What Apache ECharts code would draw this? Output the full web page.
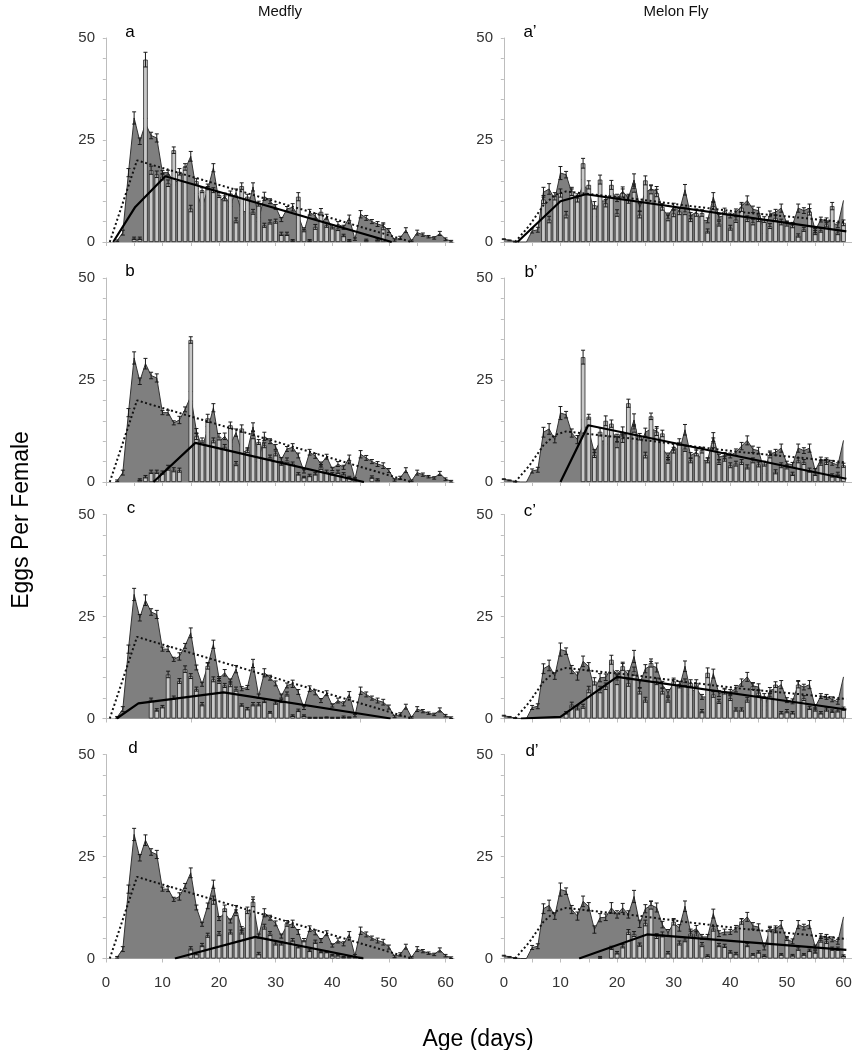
<!DOCTYPE html>
<html>
<head>
<meta charset="utf-8">
<script src="https://cdn.jsdelivr.net/npm/echarts@6/dist/echarts.min.js"></script>
<style>
html, body { margin: 0; padding: 0; background: #fff; }
#chart { width: 852px; height: 1050px; }
</style>
</head>
<body>
<div id="chart"></div>
<script>
// all series are indexed by day (0 = first day on the age axis)
var medflyControl = [null, null, 0.3, 2.3, 17, 30.4, 24.7, 29, 26.1, 25.5,
  17, 17, 14.5, 15.2, 17.8, 21, 12.5, 8.4, 12.9, 18.2,
  9.8, 11.2, 9.2, 12.1, 7.3, 7.6, 13.5, 5.5, 11.2, 10,
  8.6, 5.5, 8.1, 8.5, 6.5, 2.6, 7.3, 6.4, 4.4, 6.2,
  3.2, 4.4, 3.6, 5.9, 0.7, 6.8, 5.9, 5.0, 4.4, 4.0,
  2.8, 0.5, 1.0, 2.9, 0.3, 2.3, 1.8, 1.3, 1.0, 2.1,
  0.7, 0.2];
var medflyControlErr = [0, 0, 0.2, 0.6, 1.0, 1.5, 0.8, 1.3, 0.8, 1.0,
  0.5, 0.6, 0.5, 0.9, 0.6, 1.2, 0.6, 0.5, 0.7, 1.0,
  0.5, 0.8, 0.5, 0.9, 0.5, 0.5, 1.0, 0.5, 1.0, 0.6,
  0.6, 0.5, 0.6, 0.9, 0.6, 0.4, 0.7, 0.6, 0.5, 0.6,
  0.4, 0.6, 0.5, 0.7, 0.3, 0.9, 0.6, 0.5, 0.6, 0.7,
  0.5, 0.3, 0.4, 0.6, 0.2, 0.6, 0.4, 0.3, 0.3, 0.5,
  0.3, 0.2];
var melonControl = [0.7, 0.4, 0.1, 0, 0, 2.7, 3, 12.2, 13, 10.4,
  16.9, 16.5, 12, 10.4, 14, 12.7, 7.1, 10, 10.1, 12.4,
  10.8, 12.4, 10.8, 15.2, 8.5, 12.2, 13, 12.5, 8.3, 6.3,
  8.7, 7.5, 12.8, 6.5, 7.3, 5.3, 5.3, 11, 6.1, 6.5,
  6.5, 7.3, 8.8, 10.2, 8, 7.7, 2.6, 6.9, 7.3, 8.3,
  4.5, 4.2, 8.3, 7.7, 8.3, 2.8, 5.5, 5.3, 4.7, 4.1,
  10.2];
var melonControlErr = [0.1, 0.1, 0.1, 0, 0, 0.5, 0.6, 1.2, 1.3, 0.8,
  1.6, 0.8, 1.0, 1.0, 1.3, 1.0, 0.9, 1.0, 0.8, 1.3,
  0.9, 1.1, 0.9, 1.5, 0.9, 1.0, 1.0, 1.1, 0.8, 0.8,
  0.8, 0.8, 1.3, 0.7, 0.8, 0.6, 0.6, 1.1, 0.7, 0.7,
  0.6, 0.8, 0.9, 1.1, 0.8, 0.8, 0.5, 0.7, 0.7, 1.0,
  0.6, 0.6, 1.0, 0.7, 1.0, 0.5, 0.6, 0.6, 0.6, 0.6,
  0];

// piecewise fits [day, eggs]
var fitMedfly = [[0.7, 0], [5.5, 20], [54, 0]];
var fitMelon = [[2, 0], [4.5, 4], [7, 9], [9, 11.5], [11, 12.4], [16, 11.6], [23, 10.6], [33, 8.8], [42, 7.3], [52, 6], [60.5, 4.8]];

// treatment bars: first day, values, errors
var barsAStart = 5;
var barsA = [0.9, 0.9, 44.7, 17.6, 16.6, 16.0, 14.4, 22.5, 17.2, 18.4,
  8.2, 14.9, 12.7, 13.5, 12.7, 11.5, 10.7, 11.9, 5.3, 13.7,
  11.1, 7.4, 9.4, 4.1, 4.9, 5.1, 2.0, 2.0, 0.4, 11.1,
  3.0, 0.4, 3.7, 7.4, 4.1, 3.7, 3.3, 1.6, 0.4, null,
  null, 0.5, null, 0.6, 3.7];
var errA = [0.3, 0.3, 1.8, 1.0, 0.8, 0.8, 0.8, 0.8, 0.8, 0.8,
  0.8, 0.7, 0.6, 0.7, 0.6, 0.6, 0.6, 0.6, 0.6, 0.8,
  0.6, 0.6, 0.6, 0.5, 0.5, 0.5, 0.4, 0.4, 0.2, 1.0,
  0.5, 0.2, 0.6, 0.8, 0.5, 0.5, 0.5, 0.3, 0.2, 0,
  0, 0.2, 0, 0.2, 0.7];
var fitA = [[1.3, 0], [5.2, 8.6], [10.5, 16.1], [50.5, 0]];

var barsBStart = 6;
var barsB = [0.6, 1.3, 2.5, 2.5, 2.3, 3.5, 3.0, 2.9, null, 34.8,
  11.2, 10.2, 15.6, 10.2, 11.1, 8.6, 13.9, 4.5, 13.1, 7.8,
  11.5, 9.8, 9.0, 6.1, 7.0, 4.5, 5.3, 4.5, 2.0, 1.2,
  1.6, 2.0, 3.7, 2.5, 2.0, 2.5, 2.0, 1.2, 0.8, null,
  null, 1.2, 0.6];
var errB = [0.2, 0.3, 0.4, 0.4, 0.4, 0.6, 0.5, 0.5, 0, 0.8,
  0.8, 0.6, 1.0, 0.6, 0.8, 0.6, 0.8, 0.5, 0.9, 0.6,
  0.9, 0.6, 0.6, 0.5, 0.6, 0.4, 0.6, 0.4, 0.3, 0.2,
  0.3, 0.3, 0.6, 0.4, 0.3, 0.4, 0.3, 0.2, 0.2, 0,
  0, 0.3, 0.2];
var fitB = [[8.4, 0], [15.8, 9.6], [45.6, 0]];

var barsCStart = 8;
var barsC = [4.6, 2.1, 2.9, 10.8, 5.1, 9.2, 12.1, 10.4, 7.2, 3.5,
  12.9, 9.6, 9.2, 8.1, 8.4, 7.2, 3.3, 2.4, 3.5, 3.5,
  4.3, 1.5, 3.9, 4.3, 6.0, 0.7, 2.0, 0.7, 0.2, 0.2,
  0.2, 0.3, 0.2, 0.2, 0.4, 0.3];
var errC = [0.4, 0.3, 0.3, 0.8, 0.4, 0.6, 0.8, 0.6, 0.5, 0.4,
  0.8, 0.6, 0.6, 0.5, 0.6, 0.5, 0.3, 0.3, 0.4, 0.4,
  0.4, 0.2, 0.4, 0.4, 0.5, 0.2, 0.3, 0.2, 0.1, 0.1,
  0.1, 0.1, 0.1, 0.1, 0.2, 0.1];
var fitC = [[1.9, 0], [5.75, 3.7], [20.8, 6.4], [50.3, 0]];

var barsDStart = 15;
var barsD = [2.5, 1.2, 3.3, 5.7, 14.3, 6.1, 12.3, 6.5, 11.2, 6.5,
  11.8, 13.9, 1.2, 7.8, 6.1, 3.7, 3.7, 8.6, 4.5, 2.9,
  4.5, 2.0, 4.1, 1.6, 1.6, 0.8, 0.8, 0.4, 0.4, 0.4,
  0.2];
var errD = [0.4, 0.3, 0.4, 0.5, 1.0, 0.5, 0.8, 0.5, 0.7, 0.5,
  0.8, 1.2, 0.3, 0.6, 0.5, 0.4, 0.4, 0.7, 0.4, 0.3,
  0.4, 0.3, 0.4, 0.2, 0.2, 0.2, 0.2, 0.1, 0.1, 0.1,
  0.1];
var fitD = [[12.2, 0], [26.4, 5.3], [45.5, 0]];

var barsA2Start = 7;
var barsA2 = [10.4, 5.5, 11.2, 12.0, 6.7, 12.4, 10.8, 19.3, 14.0, 9.0,
  15.3, 9.5, 14.0, 7.1, 12.0, 10.4, 13.2, 6.7, 15.1, 12.8,
  12.0, 8.6, 5.9, 7.0, 7.5, 7.5, 5.7, 7.1, 7.1, 2.7,
  8.8, 4.5, 7.5, 3.5, 5.5, 8.4, 5.7, 4.9, 5.7, 5.5,
  3.9, 5.9, 4.9, 4.5, 4.1, 1.6, 3.1, 7.4, 2.3, 2.9,
  4.3, 8.8, 2.3, 4.7];
var errA2 = [1.0, 0.8, 0.9, 1.0, 0.8, 1.0, 1.0, 1.2, 1.0, 0.9,
  1.1, 0.9, 1.1, 0.8, 1.0, 0.9, 1.0, 0.8, 1.1, 1.0,
  0.9, 0.8, 0.7, 0.8, 0.8, 0.8, 0.7, 0.8, 0.8, 0.5,
  0.9, 0.6, 0.8, 0.6, 0.7, 0.9, 0.7, 0.7, 0.7, 0.7,
  0.6, 0.7, 0.7, 0.6, 0.6, 0.4, 0.5, 0.8, 0.5, 0.5,
  0.6, 0.9, 0.5, 0.7];
var fitA2 = [[2.4, 0], [10, 10], [14.5, 11.7], [60.5, 2.6]];

var barsB2Start = 14;
var barsB2 = [30.6, 16.0, 6.6, 12.3, 15.0, 14.3, 9.8, 10.7, 19.3, 13.1,
  11.1, 6.6, 16.1, 12.3, 11.9, 5.3, 7.8, 9.8, 8.2, 5.3,
  7.1, 7.8, 5.3, 9.6, 4.9, 5.7, 4.1, 4.5, 4.9, 3.7,
  5.3, 4.3, 4.5, 6.6, 2.5, 4.1, 3.7, 2.0, 5.3, 4.9,
  2.9, 2.0, 4.7, 4.9, 1.6, 2.0, 4.1];
var errB2 = [1.7, 0.6, 0.6, 1.0, 1.2, 0.9, 1.4, 1.0, 1.0, 0.9,
  0.8, 0.7, 0.8, 0.9, 0.8, 0.7, 0.7, 0.8, 0.7, 0.6,
  0.7, 0.7, 0.6, 1.2, 0.6, 0.6, 0.6, 0.6, 0.6, 0.5,
  0.6, 0.6, 0.6, 0.7, 0.5, 0.6, 0.5, 0.4, 0.6, 0.6,
  0.5, 0.4, 0.6, 0.6, 0.4, 0.4, 0.5];
var fitB2 = [[10, 0], [14.9, 13.9], [60.5, 0.8]];

var barsC2Start = 11;
var barsC2 = [1.4, 3.4, 2.6, 3.0, 7.1, 9.1, 7.1, 7.9, 14.4, 9.5,
  12.8, 8.7, 11.6, 6.7, 4.6, 13.6, 9.1, 6.7, 4.6, 9.1,
  8.3, 8.9, 8.7, 8.7, 1.8, 11.2, 5.9, 4.2, 6.7, 5.0,
  2.2, 2.2, 4.6, 7.9, 6.3, 5.5, 5.5, 8.3, 1.4, 1.8,
  1.4, 8.3, 5.0, 2.6, 2.2, 1.4, 2.2, 1.8, 2.0, 2.4];
var errC2 = [0.3, 0.6, 0.5, 0.5, 0.8, 0.9, 0.8, 0.8, 1.1, 1.2,
  1.0, 0.8, 1.0, 0.7, 0.6, 1.0, 0.8, 0.7, 0.6, 0.8,
  0.8, 0.8, 0.8, 0.8, 0.4, 1.2, 0.7, 0.5, 0.7, 0.6,
  0.4, 0.4, 0.6, 0.8, 0.7, 0.6, 0.6, 0.7, 0.3, 0.4,
  0.3, 0.8, 0.6, 0.4, 0.4, 0.3, 0.4, 0.3, 0.4, 0.4];
var fitC2 = [[3, 0], [10, 0.4], [20, 10.2], [60.5, 2.2]];

var barsD2Start = 17;
var barsD2 = [0.3, null, 2.6, 1.4, 3.0, 6.5, 6.0, 3.4, 8.7, 13.1,
  5.5, 5.9, 1.4, 9.0, 3.8, 4.6, 6.1, 6.1, 3.4, 0.7,
  7.3, 3.3, 3.1, 1.6, 1.2, 9.1, 3.3, 1.0, 1.6, 0.7,
  7.3, 6.9, 1.0, 4.9, 0.8, 2.4, 1.0, 2.0, 1.6, 4.5,
  4.2, 2.4, 2.4, 0.7];
var errD2 = [0.2, 0, 0.4, 0.3, 0.4, 0.6, 0.6, 0.4, 0.7, 1.0,
  0.6, 0.6, 0.3, 0.8, 0.5, 0.5, 0.6, 0.6, 0.5, 0.2,
  0.6, 0.4, 0.4, 0.3, 0.3, 0.7, 0.4, 0.2, 0.3, 0.2,
  0.6, 0.6, 0.2, 0.5, 0.2, 0.4, 0.2, 0.3, 0.3, 0.5,
  0.5, 0.4, 0.4, 0.2];
var fitD2 = [[13.3, 0], [25.3, 5.9], [60.5, 2.1]];

var yLabels = [0, 25, 50];
var xLabels = [0, 10, 20, 30, 40, 50, 60];

var FONT = '"Liberation Sans", Arial, sans-serif';

var panels = [
  {tag: 'a', col: 0, row: 0, ctrl: medflyControl, ctrlErr: medflyControlErr, ctrlFit: fitMedfly, start: barsAStart, bars: barsA, err: errA, fit: fitA, tick: 5},
  {tag: 'b', col: 0, row: 1, ctrl: medflyControl, ctrlErr: medflyControlErr, ctrlFit: fitMedfly, start: barsBStart, bars: barsB, err: errB, fit: fitB, tick: 5},
  {tag: 'c', col: 0, row: 2, ctrl: medflyControl, ctrlErr: medflyControlErr, ctrlFit: fitMedfly, start: barsCStart, bars: barsC, err: errC, fit: fitC, tick: 15},
  {tag: 'd', col: 0, row: 3, ctrl: medflyControl, ctrlErr: medflyControlErr, ctrlFit: fitMedfly, start: barsDStart, bars: barsD, err: errD, fit: fitD, tick: 10},
  {tag: 'a\u2019', col: 1, row: 0, ctrl: melonControl, ctrlErr: melonControlErr, ctrlFit: fitMelon, start: barsA2Start, bars: barsA2, err: errA2, fit: fitA2, tick: 5},
  {tag: 'b\u2019', col: 1, row: 1, ctrl: melonControl, ctrlErr: melonControlErr, ctrlFit: fitMelon, start: barsB2Start, bars: barsB2, err: errB2, fit: fitB2, tick: 5},
  {tag: 'c\u2019', col: 1, row: 2, ctrl: melonControl, ctrlErr: melonControlErr, ctrlFit: fitMelon, start: barsC2Start, bars: barsC2, err: errC2, fit: fitC2, tick: 5},
  {tag: 'd\u2019', col: 1, row: 3, ctrl: melonControl, ctrlErr: melonControlErr, ctrlFit: fitMelon, start: barsD2Start, bars: barsD2, err: errD2, fit: fitD2, tick: 5}
];

var tops = [38, 278, 514.5, 754.5];
var lefts = [103, 501];
var letterPos = [[130, 32], [130, 271], [131, 508], [133, 748]];
var letterPos2 = [[530, 32], [531, 272], [530, 511], [532, 751]];

function pts(start, vals) {
  var out = [];
  vals.forEach(function (v, j) {
    if (v != null) out.push([start + j, v]);
  });
  return out;
}

function errPts(start, vals, errs) {
  var out = [];
  vals.forEach(function (v, j) {
    var e = errs[j] || 0;
    if (v != null && e > 0) out.push([start + j, v, e]);
  });
  return out;
}

function errorBar(params, api) {
  var x = api.value(0), y = api.value(1), e = api.value(2);
  var hi = api.coord([x, y + e]);
  var lo = api.coord([x, Math.max(y - e, 0)]);
  var w = 2;
  var st = {stroke: '#1a1a1a', lineWidth: 1, fill: null};
  return {
    type: 'group',
    children: [
      {type: 'line', shape: {x1: hi[0], y1: hi[1], x2: lo[0], y2: lo[1]}, style: st},
      {type: 'line', shape: {x1: hi[0] - w, y1: hi[1], x2: hi[0] + w, y2: hi[1]}, style: st},
      {type: 'line', shape: {x1: lo[0] - w, y1: lo[1], x2: lo[0] + w, y2: lo[1]}, style: st}
    ]
  };
}

var option = {
  animation: false,
  backgroundColor: '#fff',
  grid: [], xAxis: [], yAxis: [], series: [], graphic: []
};

panels.forEach(function (p, i) {
  option.grid.push({left: lefts[p.col], top: tops[p.row], width: 351, height: 204, outerBoundsMode: 'none'});

  var ticks = [];
  for (var t = 0; t <= 60; t += p.tick) ticks.push(t);

  option.xAxis.push({
    type: 'value', gridIndex: i, min: -0.5, max: 61.5,
    splitLine: {show: false},
    axisLine: {show: true, onZero: false, lineStyle: {color: '#bdbdbd', width: 1}},
    axisTick: {show: true, customValues: ticks, length: 4, lineStyle: {color: '#bdbdbd'}},
    axisLabel: {show: p.row === 3, customValues: xLabels, margin: 17, fontSize: 15, color: '#333', fontFamily: FONT}
  });
  option.yAxis.push({
    type: 'value', gridIndex: i, min: 0, max: 50, interval: 5,
    splitLine: {show: false},
    axisLine: {show: true, lineStyle: {color: '#bdbdbd', width: 1}},
    axisTick: {show: true, length: 3, lineStyle: {color: '#bdbdbd'}},
    axisLabel: {
      formatter: function (v) { return yLabels.indexOf(v) >= 0 ? String(v) : ''; },
      margin: 8, fontSize: 15, color: '#333', fontFamily: FONT
    }
  });

  // control: dark area with error bars
  option.series.push({
    type: 'line', xAxisIndex: i, yAxisIndex: i, data: pts(0, p.ctrl),
    symbol: 'none', silent: true, z: 1,
    lineStyle: {color: '#333', width: 1},
    areaStyle: {color: '#7f7f7f', opacity: 1}
  });
  option.series.push({
    type: 'custom', xAxisIndex: i, yAxisIndex: i, data: errPts(0, p.ctrl, p.ctrlErr),
    encode: {x: 0, y: 1}, renderItem: errorBar, silent: true, z: 2
  });

  // treatment bars
  option.series.push({
    type: 'bar', xAxisIndex: i, yAxisIndex: i, data: pts(p.start, p.bars),
    barWidth: 4.6, silent: true, z: 3,
    itemStyle: {color: '#c8c8c8', borderColor: '#2a2a2a', borderWidth: 0.8}
  });
  option.series.push({
    type: 'custom', xAxisIndex: i, yAxisIndex: i, data: errPts(p.start, p.bars, p.err),
    encode: {x: 0, y: 1}, renderItem: errorBar, silent: true, z: 4
  });

  // fitted lines
  option.series.push({
    type: 'line', xAxisIndex: i, yAxisIndex: i, data: p.ctrlFit,
    symbol: 'none', silent: true, z: 5,
    lineStyle: {color: '#111', width: 2, type: [2, 2.5]}
  });
  option.series.push({
    type: 'line', xAxisIndex: i, yAxisIndex: i, data: p.fit,
    symbol: 'none', silent: true, z: 6,
    lineStyle: {color: '#000', width: 2.2}
  });

  var lp = p.col === 0 ? letterPos[p.row] : letterPos2[p.row];
  option.graphic.push({
    type: 'text', x: lp[0], y: lp[1], z: 10,
    style: {text: p.tag, font: '17px ' + FONT, fill: '#000', textAlign: 'center', textVerticalAlign: 'middle'}
  });
});

option.graphic.push(
  {type: 'text', x: 280, y: 12, style: {text: 'Medfly', font: '15px ' + FONT, fill: '#111', textAlign: 'center', textVerticalAlign: 'middle'}},
  {type: 'text', x: 676, y: 12, style: {text: 'Melon Fly', font: '15px ' + FONT, fill: '#111', textAlign: 'center', textVerticalAlign: 'middle'}},
  {type: 'text', x: 22, y: 520, rotation: Math.PI / 2, style: {text: 'Eggs Per Female', font: '23px ' + FONT, fill: '#000', textAlign: 'center', textVerticalAlign: 'middle'}},
  {type: 'text', x: 478, y: 1040, style: {text: 'Age (days)', font: '23px ' + FONT, fill: '#000', textAlign: 'center', textVerticalAlign: 'middle'}}
);

var chart = echarts.init(document.getElementById('chart'));
chart.setOption(option);
</script>
</body>
</html>
